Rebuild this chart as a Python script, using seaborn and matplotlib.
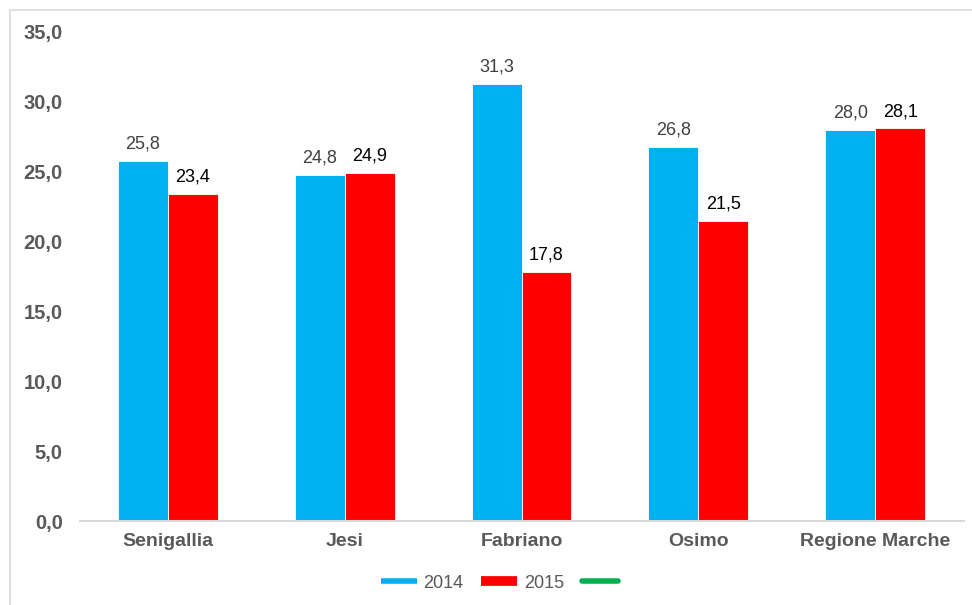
import matplotlib
matplotlib.use("Agg")
import matplotlib.pyplot as plt
from matplotlib.lines import Line2D
from matplotlib.patches import Rectangle
import seaborn as sns
import pandas as pd

categories = ["Senigallia", "Jesi", "Fabriano", "Osimo", "Regione Marche"]
values_2014 = [25.8, 24.8, 31.3, 26.8, 28.0]
values_2015 = [23.4, 24.9, 17.8, 21.5, 28.1]
years = ["2014", "2015"]
yticks = [0, 5, 10, 15, 20, 25, 30, 35]

df = pd.DataFrame({
    "cat": categories * 2,
    "val": values_2014 + values_2015,
    "year": [years[0]] * len(categories) + [years[1]] * len(categories),
})

sns.set_style("white")
plt.rcParams["font.family"] = ["Liberation Sans", "DejaVu Sans"]

BLUE = "#00B0F0"
RED = "#FF0000"
GREEN = "#00B050"
GREY = "#595959"

fig = plt.figure(figsize=(9.72, 6.05), dpi=100)
ax = fig.add_axes([79.5 / 972, (605 - 521) / 605, 884 / 972, 489 / 605])

sns.barplot(data=df, x="cat", y="val", hue="year", palette=[BLUE, RED],
            width=0.565, saturation=1, legend=False, ax=ax,
            edgecolor="white", linewidth=0.6)

ax.set_ylim(0, 35)
ax.set_xlim(-0.5, len(categories) - 0.5)
ax.set_yticks(yticks)
ax.set_yticklabels([f"{v:.1f}".replace(".", ",") for v in yticks],
                   fontsize=14.5, fontweight="bold", color=GREY)
ax.set_xticks(range(len(categories)))
ax.set_xticklabels(categories, fontsize=14, fontweight="bold", color=GREY)
ax.tick_params(axis="y", length=0, pad=12)
ax.tick_params(axis="x", length=0, pad=9)
ax.set_xlabel("")
ax.set_ylabel("")
for s in ["top", "right", "left"]:
    ax.spines[s].set_visible(False)
ax.spines["bottom"].set_color("#D9D9D9")
ax.spines["bottom"].set_linewidth(1.5)

label_colors = ["#404040", "#000000"]
for cont, vals, col in zip(ax.containers, [values_2014, values_2015], label_colors):
    ax.bar_label(cont, labels=[f"{v:.1f}".replace(".", ",") for v in vals],
                 padding=6, fontsize=13, color=col)

# outer frame
fig.patches.append(Rectangle((10 / 972, -0.1), 1.2, (605 - 10) / 605 + 0.1,
                             transform=fig.transFigure, fill=False,
                             edgecolor="#D9D9D9", linewidth=1.2))

handles = [Line2D([], [], color=BLUE, lw=4, solid_capstyle="butt"),
           Line2D([], [], color=RED, lw=7, solid_capstyle="butt"),
           Line2D([], [], color=GREEN, lw=4, solid_capstyle="round")]
fig.legend(handles, years + [""], loc="center", bbox_to_anchor=(0.517, 22 / 605),
           ncol=3, frameon=False, fontsize=13, labelcolor=GREY,
           handlelength=2.0, handletextpad=0.35, columnspacing=1.0)

fig.savefig("out.png", dpi=100)
